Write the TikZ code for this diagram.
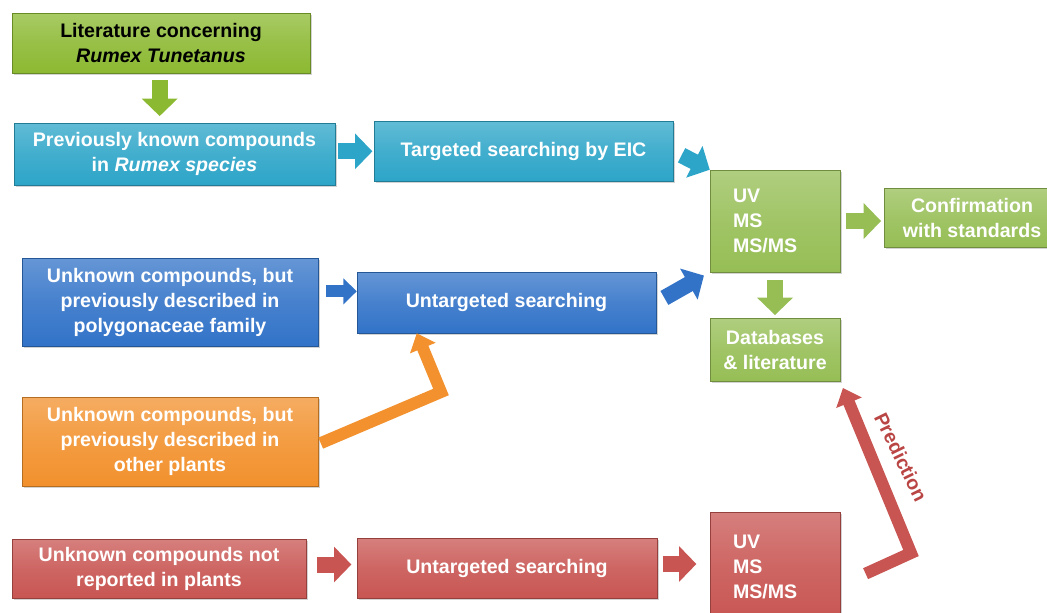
\documentclass[tikz,border=0pt]{standalone}
\usepackage{fontspec}
\setmainfont{Liberation Sans}
\usetikzlibrary{arrows.meta, shadows}
\definecolor{litgreen}{RGB}{140,185,50}
\definecolor{boxgreen}{RGB}{150,190,85}
\definecolor{boxcyan}{RGB}{45,165,200}
\definecolor{boxblue}{RGB}{50,115,200}
\definecolor{boxorange}{RGB}{242,145,45}
\definecolor{boxred}{RGB}{200,85,82}
\definecolor{predred}{RGB}{185,70,68}
\newcommand{\pix}{0.75pt}
\tikzset{
  box/.style={inner sep=0pt, align=center, text=white, draw=#1!75!black,
    top color=#1!75!white, bottom color=#1, middle color=#1!90!white,
    drop shadow={opacity=0.35, shadow xshift=1.5pt, shadow yshift=-1.5pt}},
  fat/.style={#1, line width=12pt, -{Triangle[length=13pt, width=26pt]}},
  slim/.style={#1, line width=9pt, -{Triangle[length=10pt, width=19pt]}},
  bent/.style={#1, line width=9pt, line join=miter, -{Triangle[length=12pt, width=20pt]}}
}
\begin{document}
\begin{tikzpicture}[x=0.75pt, y=-0.75pt, font=\fontsize{14.7}{18.75}\selectfont\bfseries]
\useasboundingbox (0,0) rectangle (1047,612);
\node[box=litgreen, text=black, minimum width=298*\pix, minimum height=60*\pix] (lit) at (161,43) {Literature concerning\\\textit{Rumex Tunetanus}};
\node[box=boxcyan, minimum width=321*\pix, minimum height=62*\pix] (prev) at (174.5,154) {Previously known compounds\\in \textit{Rumex species}};
\node[box=boxcyan, minimum width=299*\pix, minimum height=60*\pix] (targ) at (523.5,151) {Targeted searching by EIC};
\node[box=boxgreen, align=left, text width=84*\pix, minimum width=130*\pix, minimum height=102*\pix] (uvone) at (775,221) {UV\\MS\\MS/MS};
\node[box=boxgreen, minimum width=176*\pix, minimum height=59*\pix] (conf) at (972,217.5) {Confirmation\\with standards};
\node[box=boxgreen, minimum width=130*\pix, minimum height=63*\pix] (db) at (775,349.5) {Databases\\\& literature};
\node[box=boxblue, minimum width=296*\pix, minimum height=88*\pix] (unkone) at (170,302) {Unknown compounds, but\\previously described in\\polygonaceae family};
\node[box=boxblue, minimum width=299*\pix, minimum height=61*\pix] (untone) at (506.5,302.5) {Untargeted searching};
\node[box=boxorange, minimum width=296*\pix, minimum height=89*\pix] (unktwo) at (170,441.5) {Unknown compounds, but\\previously described in\\other plants};
\node[box=boxred, minimum width=294*\pix, minimum height=59*\pix] (unkthree) at (159,568.5) {Unknown compounds not\\reported in plants};
\node[box=boxred, minimum width=300*\pix, minimum height=60*\pix] (unttwo) at (507,568) {Untargeted searching};
\node[box=boxred, align=left, text width=84*\pix, minimum width=130*\pix, minimum height=110*\pix] (uvtwo) at (775,567) {UV\\MS\\MS/MS};
\node[rotate=-64, text=predred] (pred) at (901,457) {Prediction};
\coordinate (obend) at (441,392);
\coordinate (pbend) at (911,553);
\draw[fat=litgreen, shorten <=5pt, shorten >=5pt] ([xshift=-1pt]lit.south) -- ([xshift=-1pt]lit.south |- prev.north);
\draw[fat=boxcyan, shorten <=2pt, shorten >=1pt] ([yshift=2pt]prev.east) -- ([yshift=2pt]prev.east -| targ.west);
\draw[fat=boxcyan, shorten <=7pt] (targ.east) -- (uvone.north west);
\draw[slim=boxblue, shorten <=6pt, shorten >=0pt] ([yshift=8pt]unkone.east) -- ([yshift=8pt]unkone.east -| untone.west);
\draw[fat=boxblue, shorten <=7pt, shorten >=5pt] (untone.east) -- (uvone.south west);
\draw[fat=boxgreen, shorten <=4pt, shorten >=2pt] (uvone.east) -- (uvone.east -| conf.west);
\draw[fat=boxgreen, shorten <=6pt, shorten >=2pt] (uvone.south) -- (db.north);
\draw[fat=boxred, shorten <=8pt, shorten >=4pt] ([yshift=3pt]unkthree.east) -- ([yshift=3pt]unkthree.east -| unttwo.west);
\draw[fat=boxred, shorten <=4pt, shorten >=10pt] ([yshift=3pt]unttwo.east) -- ([yshift=3pt]unttwo.east -| uvtwo.west);
\draw[bent=boxorange, shorten <=2pt] ([yshift=-2pt]unktwo.east) -- (obend) -- ([xshift=45pt]untone.south west);
\draw[bent=boxred] ([xshift=19pt,yshift=-5pt]uvtwo.east) -- (pbend) -- ([xshift=2pt,yshift=-5pt]db.south east);
\end{tikzpicture}
\end{document}
